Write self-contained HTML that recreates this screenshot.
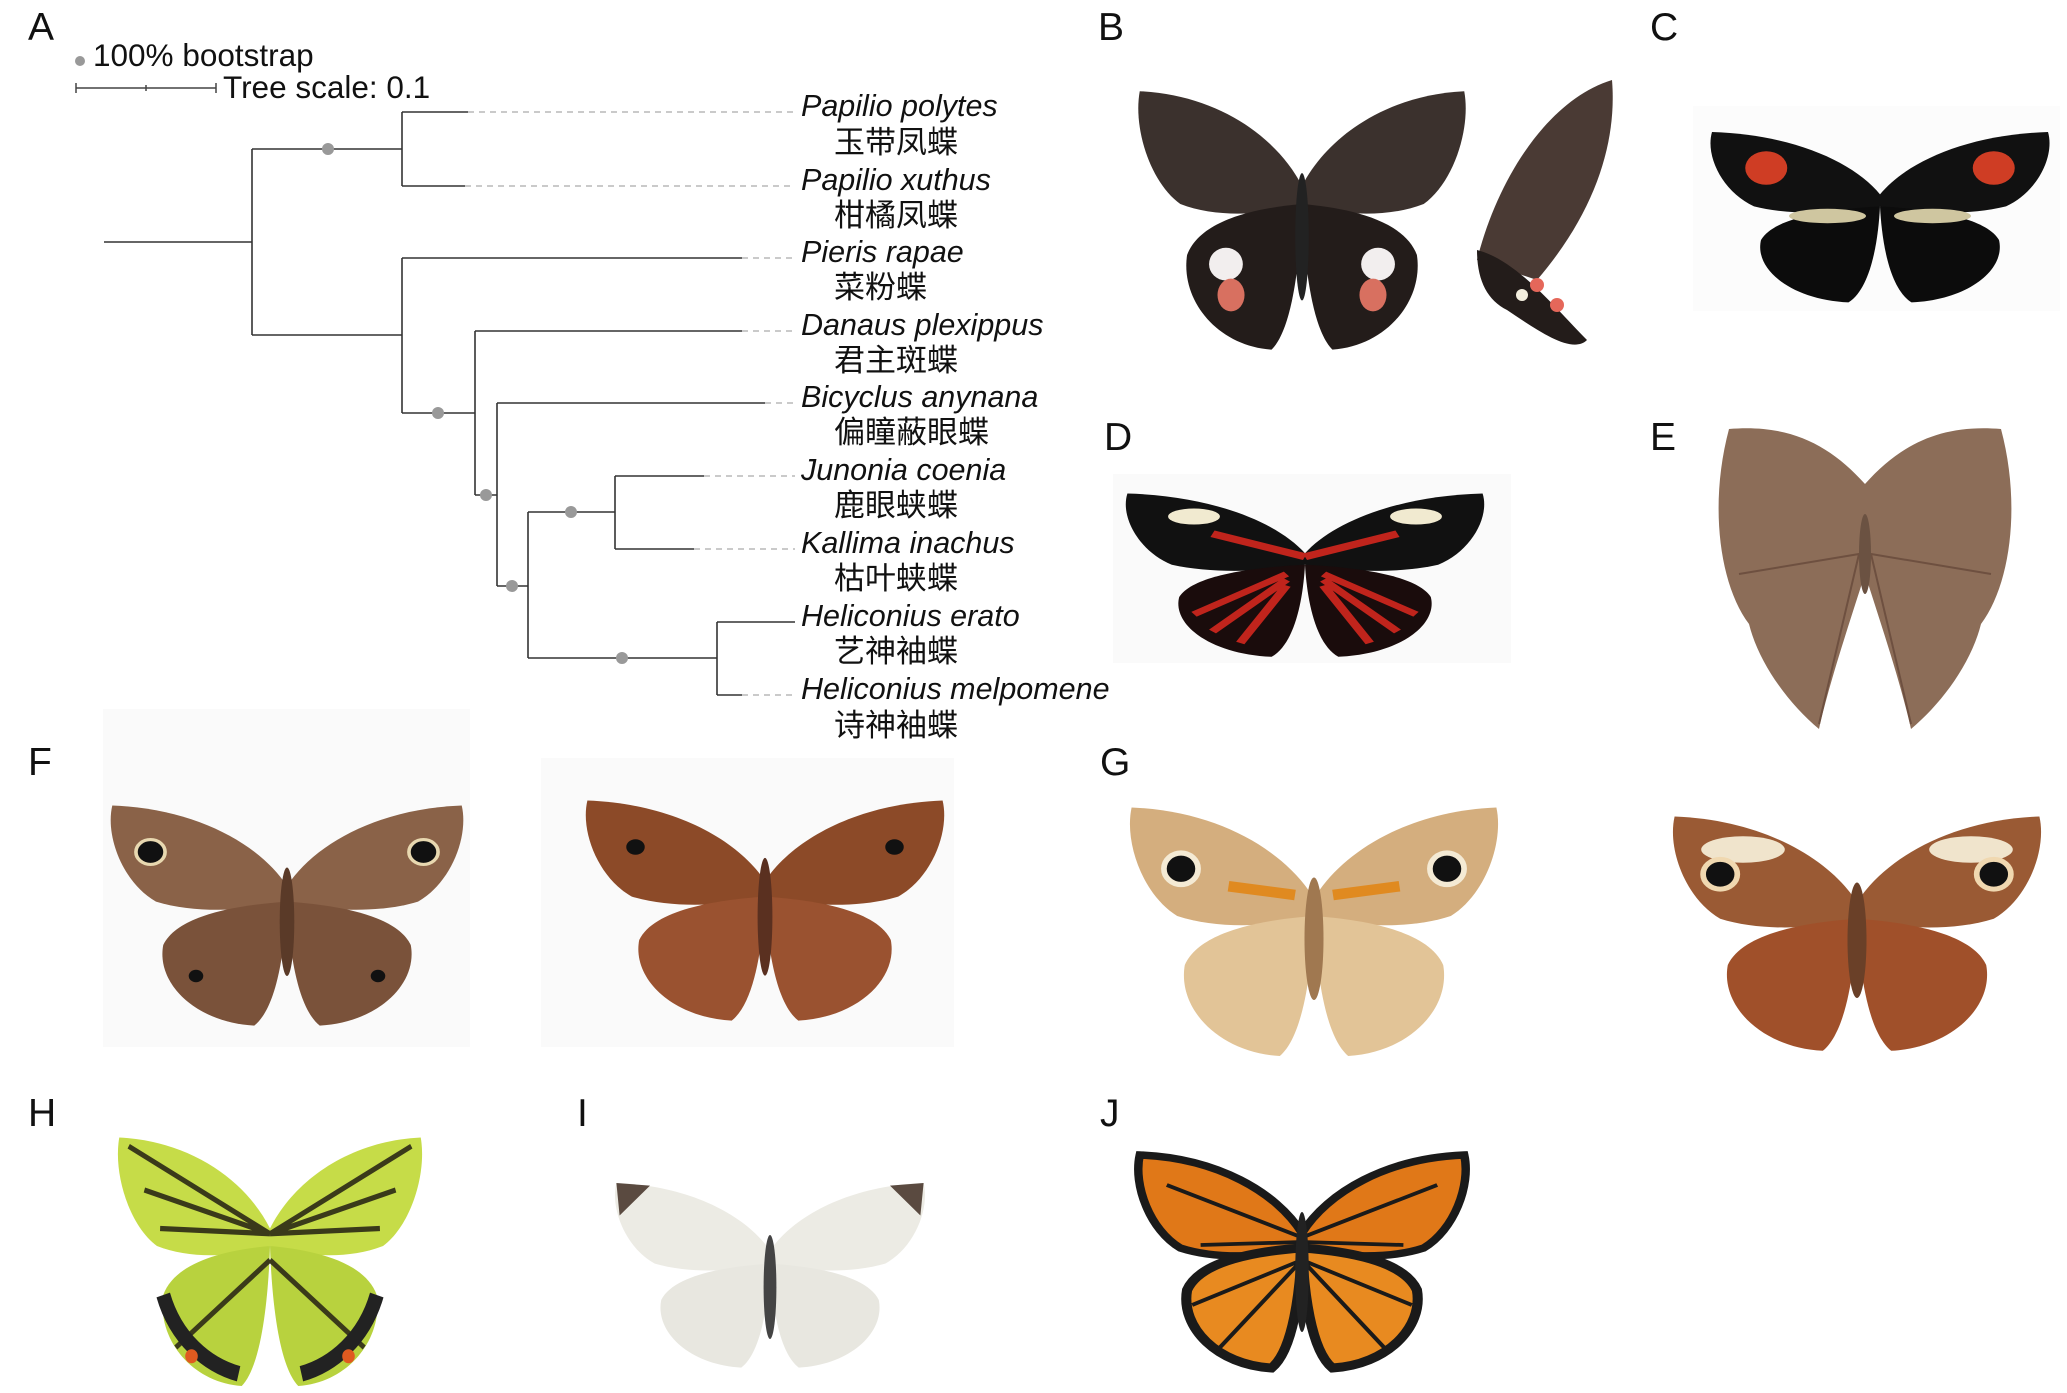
<!DOCTYPE html>
<html><head><meta charset="utf-8"><style>
html,body{margin:0;padding:0;background:#fff;}
svg{display:block;}
.sp{font-family:"Liberation Sans",sans-serif;font-style:italic;font-size:30.5px;fill:#111;}
.cn{font-family:"Liberation Sans","Noto Sans CJK SC",sans-serif;font-size:31px;fill:#111;}
.lt{font-family:"Liberation Sans",sans-serif;font-size:39px;fill:#111;}
.lg{font-family:"Liberation Sans",sans-serif;font-size:31.5px;fill:#111;}
</style></head><body>
<svg width="2067" height="1393" viewBox="0 0 2067 1393" xmlns="http://www.w3.org/2000/svg">
<defs>
<path id="fw" d="M100,62 C115,35 150,12 196,10 C200,30 190,60 172,72 C150,80 120,78 100,72 Z"/>
<path id="hw" d="M100,72 C125,74 160,80 168,100 C172,125 150,150 118,152 C105,140 101,100 100,72 Z"/>
</defs>
<text class="lt" x="28" y="40">A</text>
<text class="lt" x="1098" y="40">B</text>
<text class="lt" x="1650" y="40">C</text>
<text class="lt" x="1104" y="450">D</text>
<text class="lt" x="1650" y="450">E</text>
<text class="lt" x="28" y="775">F</text>
<text class="lt" x="1100" y="775">G</text>
<text class="lt" x="28" y="1126">H</text>
<text class="lt" x="577" y="1126">I</text>
<text class="lt" x="1100" y="1126">J</text>
<circle cx="80" cy="61" r="5" fill="#999"/>
<text class="lg" x="93" y="66">100% bootstrap</text>
<line x1="76" y1="88" x2="216" y2="88" stroke="#444" stroke-width="1.5"/>
<line x1="76" y1="83" x2="76" y2="93" stroke="#444" stroke-width="1.5"/>
<line x1="146" y1="85" x2="146" y2="91" stroke="#444" stroke-width="1.5"/>
<line x1="216" y1="83" x2="216" y2="93" stroke="#444" stroke-width="1.5"/>
<text class="lg" x="223" y="98">Tree scale: 0.1</text>
<g stroke="#333" stroke-width="1.6" fill="none">
<line x1="104" y1="242" x2="252" y2="242"/>
<line x1="252" y1="149" x2="252" y2="335"/>
<line x1="252" y1="149" x2="402" y2="149"/>
<line x1="402" y1="112" x2="402" y2="186"/>
<line x1="402" y1="112" x2="468" y2="112"/>
<line x1="402" y1="186" x2="465" y2="186"/>
<line x1="252" y1="335" x2="402" y2="335"/>
<line x1="402" y1="258" x2="402" y2="413"/>
<line x1="402" y1="258" x2="742" y2="258"/>
<line x1="402" y1="413" x2="475" y2="413"/>
<line x1="475" y1="331" x2="475" y2="495"/>
<line x1="475" y1="331" x2="742" y2="331"/>
<line x1="475" y1="495" x2="497" y2="495"/>
<line x1="497" y1="403" x2="497" y2="586"/>
<line x1="497" y1="403" x2="765" y2="403"/>
<line x1="497" y1="586" x2="528" y2="586"/>
<line x1="528" y1="512" x2="528" y2="658"/>
<line x1="528" y1="512" x2="615" y2="512"/>
<line x1="615" y1="476" x2="615" y2="549"/>
<line x1="615" y1="476" x2="704" y2="476"/>
<line x1="615" y1="549" x2="694" y2="549"/>
<line x1="528" y1="658" x2="717" y2="658"/>
<line x1="717" y1="622" x2="717" y2="695"/>
<line x1="717" y1="622" x2="795" y2="622"/>
<line x1="717" y1="695" x2="742" y2="695"/>
</g>
<g stroke="#aaa" stroke-width="1.3" stroke-dasharray="6,5" fill="none">
<line x1="468" y1="112" x2="795" y2="112"/>
<line x1="465" y1="186" x2="795" y2="186"/>
<line x1="742" y1="258" x2="795" y2="258"/>
<line x1="742" y1="331" x2="795" y2="331"/>
<line x1="765" y1="403" x2="795" y2="403"/>
<line x1="704" y1="476" x2="795" y2="476"/>
<line x1="694" y1="549" x2="795" y2="549"/>
<line x1="742" y1="695" x2="795" y2="695"/>
</g>
<g fill="#999">
<circle cx="328" cy="149" r="6"/><circle cx="438" cy="413" r="6"/><circle cx="486" cy="495" r="6"/>
<circle cx="512" cy="586" r="6"/><circle cx="571" cy="512" r="6"/><circle cx="622" cy="658" r="6"/>
</g>
<text class="sp" x="801" y="116">Papilio polytes</text><text class="cn" x="834" y="153">玉带凤蝶</text>
<text class="sp" x="801" y="190">Papilio xuthus</text><text class="cn" x="834" y="226">柑橘凤蝶</text>
<text class="sp" x="801" y="262">Pieris rapae</text><text class="cn" x="834" y="298">菜粉蝶</text>
<text class="sp" x="801" y="335">Danaus plexippus</text><text class="cn" x="834" y="371">君主斑蝶</text>
<text class="sp" x="801" y="407">Bicyclus anynana</text><text class="cn" x="834" y="443">偏瞳蔽眼蝶</text>
<text class="sp" x="801" y="480">Junonia coenia</text><text class="cn" x="834" y="516">鹿眼蛱蝶</text>
<text class="sp" x="801" y="553">Kallima inachus</text><text class="cn" x="834" y="589">枯叶蛱蝶</text>
<text class="sp" x="801" y="626">Heliconius erato</text><text class="cn" x="834" y="662">艺神袖蝶</text>
<text class="sp" x="801" y="699">Heliconius melpomene</text><text class="cn" x="834" y="736">诗神袖蝶</text>

<rect x="1693" y="106" width="367" height="205" fill="#fcfcfc"/>
<rect x="1113" y="474" width="398" height="189" fill="#fafafa"/>
<rect x="103" y="709" width="367" height="338" fill="#fafafa"/>
<rect x="541" y="758" width="413" height="289" fill="#fafafa"/>

<g transform="translate(1133,73) scale(1.69,1.82)">
<use href="#fw" fill="#3b312d"/><use href="#fw" fill="#3b312d" transform="translate(200,0) scale(-1,1)"/>
<use href="#hw" fill="#231c1a"/><use href="#hw" fill="#231c1a" transform="translate(200,0) scale(-1,1)"/>
<ellipse cx="100" cy="90" rx="4" ry="35" fill="#222"/>
<ellipse cx="55" cy="105" rx="10" ry="9" fill="#f2eeee"/><ellipse cx="145" cy="105" rx="10" ry="9" fill="#f2eeee"/>
<ellipse cx="58" cy="122" rx="8" ry="9" fill="#d87060"/><ellipse cx="142" cy="122" rx="8" ry="9" fill="#d87060"/>
</g>
<g transform="translate(1477,80)">
<path d="M0,180 C20,100 70,20 135,0 C140,60 120,130 60,200 Z" fill="#4a3a34"/>
<path d="M0,170 C40,180 80,230 110,260 C95,275 60,250 30,230 C10,220 0,200 0,170 Z" fill="#231c1a"/>
<circle cx="60" cy="205" r="7" fill="#e5675a"/><circle cx="80" cy="225" r="7" fill="#e5675a"/><circle cx="45" cy="215" r="6" fill="#f3eede"/>
</g>
<g transform="translate(1705,120) scale(1.75,1.2)">
<use href="#fw" fill="#111"/><use href="#fw" fill="#111" transform="translate(200,0) scale(-1,1)"/>
<use href="#hw" fill="#0c0c0c"/><use href="#hw" fill="#0c0c0c" transform="translate(200,0) scale(-1,1)"/>
<ellipse cx="35" cy="40" rx="12" ry="14" fill="#cf3d24"/><ellipse cx="165" cy="40" rx="12" ry="14" fill="#cf3d24"/>
<ellipse cx="70" cy="80" rx="22" ry="6" fill="#cfc6a0"/><ellipse cx="130" cy="80" rx="22" ry="6" fill="#cfc6a0"/>
</g>
<g transform="translate(1120,482) scale(1.85,1.15)">
<use href="#fw" fill="#111"/><use href="#fw" fill="#111" transform="translate(200,0) scale(-1,1)"/>
<use href="#hw" fill="#1a0c0c"/><use href="#hw" fill="#1a0c0c" transform="translate(200,0) scale(-1,1)"/>
<path d="M110,85 L150,130 M110,90 L135,140 M110,80 L160,115 M90,85 L50,130 M90,90 L65,140 M90,80 L40,115" stroke="#c0241c" stroke-width="5"/>
<path d="M100,65 L150,45 M100,65 L50,45" stroke="#c0241c" stroke-width="6"/>
<ellipse cx="160" cy="30" rx="14" ry="7" fill="#f1ead0"/><ellipse cx="40" cy="30" rx="14" ry="7" fill="#f1ead0"/>
</g>
<g transform="translate(1709,424)">
<path d="M156,60 C120,20 80,0 20,5 C0,80 10,160 40,200 C50,240 80,280 110,305 C120,260 140,200 156,150 Z" fill="#8c6d58"/>
<path d="M156,60 C192,20 232,0 292,5 C312,80 302,160 272,200 C262,240 232,280 202,305 C192,260 172,200 156,150 Z" fill="#8c6d58"/>
<path d="M30,150 L150,130 L110,300 M282,150 L162,130 L202,300" stroke="#6e5040" stroke-width="2" fill="none"/>
<ellipse cx="156" cy="130" rx="6" ry="40" fill="#6b5242"/>
</g>
<g transform="translate(105,790) scale(1.82,1.55)">
<use href="#fw" fill="#8a6248"/><use href="#fw" fill="#8a6248" transform="translate(200,0) scale(-1,1)"/>
<use href="#hw" fill="#7a523a"/><use href="#hw" fill="#7a523a" transform="translate(200,0) scale(-1,1)"/>
<ellipse cx="100" cy="85" rx="4" ry="35" fill="#5a3a28"/>
<circle cx="25" cy="40" r="8" fill="#111" stroke="#e8d8b0" stroke-width="2"/><circle cx="175" cy="40" r="8" fill="#111" stroke="#e8d8b0" stroke-width="2"/>
<circle cx="50" cy="120" r="4" fill="#111"/><circle cx="150" cy="120" r="4" fill="#111"/>
</g>
<g transform="translate(580,785) scale(1.85,1.55)">
<use href="#fw" fill="#8c4a28"/><use href="#fw" fill="#8c4a28" transform="translate(200,0) scale(-1,1)"/>
<use href="#hw" fill="#9a5230"/><use href="#hw" fill="#9a5230" transform="translate(200,0) scale(-1,1)"/>
<ellipse cx="100" cy="85" rx="4" ry="38" fill="#5a3020"/>
<circle cx="30" cy="40" r="5" fill="#111"/><circle cx="170" cy="40" r="5" fill="#111"/>
</g>
<g transform="translate(1124,790) scale(1.9,1.75)">
<use href="#fw" fill="#d4ae7e"/><use href="#fw" fill="#d4ae7e" transform="translate(200,0) scale(-1,1)"/>
<use href="#hw" fill="#e2c497"/><use href="#hw" fill="#e2c497" transform="translate(200,0) scale(-1,1)"/>
<ellipse cx="100" cy="85" rx="5" ry="35" fill="#a07850"/>
<circle cx="30" cy="45" r="9" fill="#111" stroke="#f4ead4" stroke-width="3"/><circle cx="170" cy="45" r="9" fill="#111" stroke="#f4ead4" stroke-width="3"/>
<path d="M55,55 L90,60 M145,55 L110,60" stroke="#e08a20" stroke-width="6"/>
</g>
<g transform="translate(1667,800) scale(1.9,1.65)">
<use href="#fw" fill="#9a5a34"/><use href="#fw" fill="#9a5a34" transform="translate(200,0) scale(-1,1)"/>
<use href="#hw" fill="#a0502a"/><use href="#hw" fill="#a0502a" transform="translate(200,0) scale(-1,1)"/>
<ellipse cx="100" cy="85" rx="5" ry="35" fill="#6a4028"/>
<ellipse cx="40" cy="30" rx="22" ry="8" fill="#f0e4cc"/><ellipse cx="160" cy="30" rx="22" ry="8" fill="#f0e4cc"/>
<circle cx="28" cy="45" r="9" fill="#111" stroke="#f0d8b0" stroke-width="3"/><circle cx="172" cy="45" r="9" fill="#111" stroke="#f0d8b0" stroke-width="3"/>
</g>
<g transform="translate(113,1120) scale(1.57,1.75)">
<use href="#fw" fill="#c6dc48"/><use href="#fw" fill="#c6dc48" transform="translate(200,0) scale(-1,1)"/>
<use href="#hw" fill="#b8d23e"/><use href="#hw" fill="#b8d23e" transform="translate(200,0) scale(-1,1)"/>
<path d="M100,65 L190,15 M100,65 L180,40 M100,65 L170,62 M100,65 L10,15 M100,65 L20,40 M100,65 L30,62 M100,80 L160,130 M100,80 L40,130" stroke="#3a3a1a" stroke-width="3"/>
<path d="M120,145 C140,140 160,125 168,100" stroke="#222" stroke-width="9" fill="none"/>
<path d="M80,145 C60,140 40,125 32,100" stroke="#222" stroke-width="9" fill="none"/>
<circle cx="150" cy="135" r="4" fill="#e05a20"/><circle cx="50" cy="135" r="4" fill="#e05a20"/>
</g>
<g transform="translate(610,1170) scale(1.6,1.3)">
<use href="#fw" fill="#ecebe4"/><use href="#fw" fill="#ecebe4" transform="translate(200,0) scale(-1,1)"/>
<use href="#hw" fill="#e8e7e0"/><use href="#hw" fill="#e8e7e0" transform="translate(200,0) scale(-1,1)"/>
<path d="M175,12 L196,10 L194,35 Z M25,12 L4,10 L6,35 Z" fill="#5a4a40"/>
<ellipse cx="100" cy="90" rx="4" ry="40" fill="#444"/>
</g>
<g transform="translate(1133,1140) scale(1.69,1.5)">
<use href="#fw" fill="#e07818" stroke="#1a1a1a" stroke-width="5"/><use href="#fw" fill="#e07818" stroke="#1a1a1a" stroke-width="5" transform="translate(200,0) scale(-1,1)"/>
<use href="#hw" fill="#e88a20" stroke="#1a1a1a" stroke-width="6"/><use href="#hw" fill="#e88a20" stroke="#1a1a1a" stroke-width="6" transform="translate(200,0) scale(-1,1)"/>
<path d="M100,65 L180,30 M100,68 L160,70 M100,80 L150,140 M100,80 L165,110 M100,65 L20,30 M100,68 L40,70 M100,80 L50,140 M100,80 L35,110" stroke="#1a1a1a" stroke-width="2.5"/>
<ellipse cx="100" cy="88" rx="4" ry="40" fill="#222"/>
</g>
</svg>
</body></html>
